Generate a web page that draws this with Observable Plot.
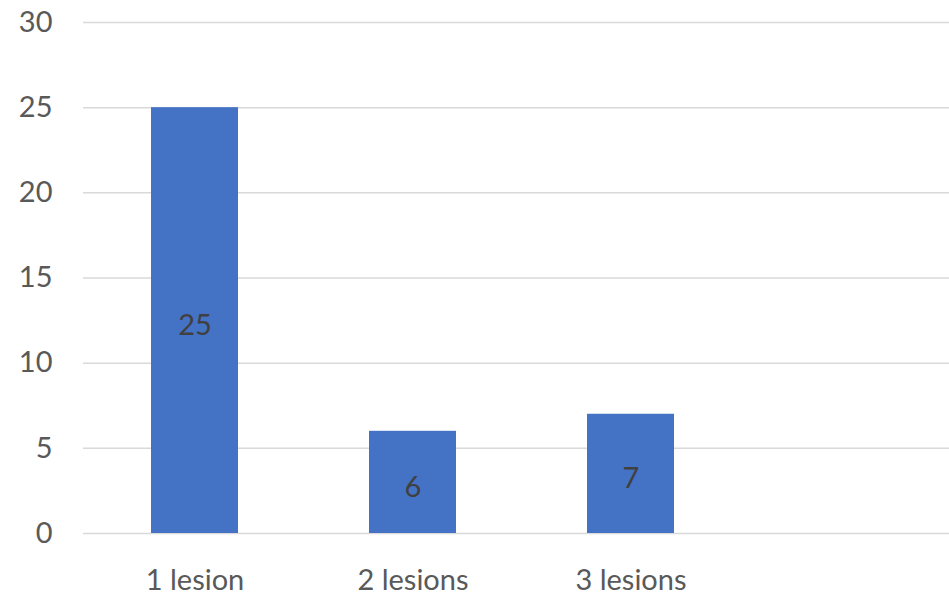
<!DOCTYPE html>
<html>
<head>
<meta charset="utf-8">
<script src="https://cdn.jsdelivr.net/npm/d3@7"></script>
<script src="https://cdn.jsdelivr.net/npm/@observablehq/plot@0.6"></script>
<style>
  html, body { margin: 0; padding: 0; background: #fff; }
  #chart svg { display: block; }
</style>
</head>
<body>
<div id="chart"></div>
<script>
// Number of patients by lesion count; the fourth slot is left empty.
const categories = ["1 lesion", "2 lesions", "3 lesions", " "];
const counts = [25, 6, 7];
const yTicks = [0, 5, 10, 15, 20, 25, 30];

const rows = counts.map((v, i) => ({category: categories[i], value: v}));

const chart = Plot.plot({
  width: 949,
  height: 596,
  marginTop: 22,
  marginBottom: 63,
  marginLeft: 83,
  marginRight: 0,
  style: {fontFamily: "Lato, 'Open Sans', sans-serif", fontSize: "30px", color: "#595959", background: "#fff"},
  x: {domain: categories, range: [84, 959], paddingInner: 0.6, paddingOuter: 0.3, label: null},
  y: {domain: [0, 30], label: null},
  marks: [
    Plot.ruleY(yTicks, {stroke: "#d9d9d9", strokeWidth: 1.5}),
    Plot.barY(rows, {x: "category", y: "value", fill: "#4472C4"}),
    Plot.text(rows, {
      x: "category",
      y: d => d.value / 2,
      text: d => String(d.value),
      fill: "#404040",
      fontSize: 29,
      dy: 5
    }),
    Plot.axisY({ticks: yTicks, tickSize: 0, tickPadding: 31, fontSize: 29, fill: "#595959"}),
    Plot.axisX({tickSize: 0, tickPadding: 36, fontSize: 29, fill: "#595959"})
  ]
});

document.getElementById("chart").append(chart);
</script>
</body>
</html>
